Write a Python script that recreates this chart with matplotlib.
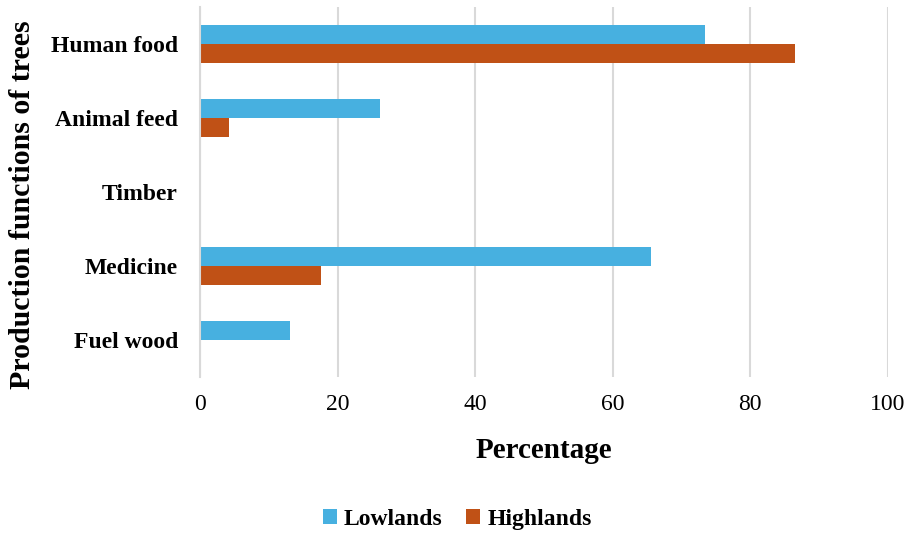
import numpy as np
import matplotlib.pyplot as plt

plt.rcParams['font.family'] = ['Liberation Serif', 'DejaVu Serif']

# Data
categories = ['Human food', 'Animal feed', 'Timber', 'Medicine', 'Fuel wood']
lowlands = [73.5, 26.2, 0, 65.6, 13.1]
highlands = [86.5, 4.2, 0, 17.6, 0]

fig = plt.figure(figsize=(9.18, 5.35), dpi=100)
ax = fig.add_axes([0.218, 0.295, 0.749, 0.692])

y = np.arange(len(categories))
h = 0.26
ax.barh(y - h / 2, lowlands, height=h, color='#47B0E0', label='Lowlands')
ax.barh(y + h / 2, highlands, height=h, color='#C05116', label='Highlands')

ax.set_xlim(0, 100)
ax.set_ylim(len(categories) - 0.5, -0.5)
ax.set_xticks(np.arange(0, 101, 20))
ax.set_yticks(y)
ax.set_yticklabels(categories, fontsize=17, fontweight='bold')
ax.tick_params(axis='x', labelsize=17, length=0, pad=12)
ax.tick_params(axis='y', length=0, pad=16)

ax.grid(axis='x', color='#d9d9d9', linewidth=1.5)
ax.set_axisbelow(True)
for s in ['top', 'right', 'bottom']:
    ax.spines[s].set_visible(False)
ax.spines['left'].set_color('#d9d9d9')
ax.spines['left'].set_linewidth(1.5)

ax.set_xlabel('Percentage', fontsize=21, fontweight='bold', labelpad=16)
ax.set_ylabel('Production functions of trees', fontsize=21.5, fontweight='bold')
ax.yaxis.set_label_coords(-0.238, 0.465)

fig.legend(loc='center', bbox_to_anchor=(0.498, 0.029), ncol=2, frameon=False,
           prop={'size': 17, 'weight': 'bold'}, handlelength=0.6, handleheight=0.6,
           handletextpad=0.3, columnspacing=1.0)

fig.savefig('out.png', dpi=100)
